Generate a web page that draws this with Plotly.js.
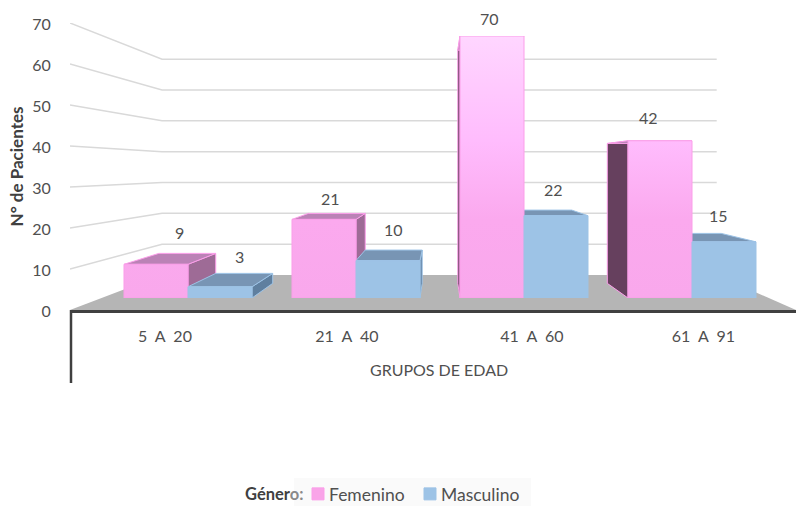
<!DOCTYPE html>
<html>
<head>
<meta charset="utf-8">
<script src="https://cdn.plot.ly/plotly-3.0.1.min.js"></script>
<style>html,body{margin:0;padding:0;background:#fff}</style>
</head>
<body>
<div id="chart" style="width:796px;height:506px"></div>
<script>
// Patients per age group and gender
const groups = ['5\u00A0\u00A0A\u00A0\u00A020', '21\u00A0\u00A0A\u00A0\u00A040', '41\u00A0\u00A0A\u00A0\u00A060', '61\u00A0\u00A0A\u00A0\u00A091'];
const femenino = [9, 21, 70, 42];
const masculino = [3, 10, 22, 15];
const valueTicks = [0, 10, 20, 30, 40, 50, 60, 70];

// Where the group labels sit along the front edge of the floor
const groupTickPos = [0.523, 1.526, 2.545, 3.49];
// Hand placement of the value labels relative to each bar top
const femShiftX = [23, 6, -3, -12], femShiftY = [32, 21, 17, 23];
const masShiftX = [19, 5, -3, -6], masShiftY = [30, 31, 26, 26];

// Page geometry, in pixels
const W = 796, H = 506, L = 70, T = 23, PW = 726, PH = 287;
const pxX = p => (p - L) / PW;
const pxY = p => (T + PH - p) / PH;

// Perspective of the room: walls recede toward a point behind the floor
const wallVx = 2.149, wallVy = 34.4, wallSx = 0.764, wallSy = 0.752;
const backX = x => wallVx + (x - wallVx) * wallSx;
const backY = v => wallVy + (v - wallVy) * wallSy;

// Perspective of the bars: depth pulls each corner toward one point
const bargap = 0.238, barW = (1 - bargap) / 2;
const barVx = 1.5, barVy = 35.53, depth = 0.89;
const deepX = x => barVx + (x - barVx) * depth;
const deepY = v => barVy + (v - barVy) * depth;

function quadInto(path, pts) {
  pts.forEach(p => { path.x.push(p[0]); path.y.push(p[1]); });
  path.x.push(pts[0][0], null); path.y.push(pts[0][1], null);
}
function faces(values, offset) {
  const top = {x: [], y: []}, right = {x: [], y: []}, left = {x: [], y: []};
  values.forEach((v, i) => {
    const a = i + offset, b = a + barW;
    quadInto(top, [[a, v], [b, v], [deepX(b), deepY(v)], [deepX(a), deepY(v)]]);
    if (b < barVx) quadInto(right, [[b, 0], [b, v], [deepX(b), deepY(v)], [deepX(b), deepY(0)]]);
    if (a > barVx) quadInto(left, [[a, 0], [a, v], [deepX(a), deepY(v)], [deepX(a), deepY(0)]]);
  });
  return {top, right, left};
}
function faceTrace(path, fill, edge) {
  return {x: path.x, y: path.y, xaxis: 'x2', yaxis: 'y2', type: 'scatter', mode: 'lines',
    fill: 'toself', fillcolor: fill, line: {color: edge, width: 1},
    hoverinfo: 'skip', showlegend: false};
}

const PINK = '#f9a4e8', BLUE = '#9dc3e6', PINK_EDGE = '#fb9ee9', BLUE_EDGE = '#9dc3e6';
const fem = faces(femenino, -barW), mas = faces(masculino, 0);

// Floor and gridlines of the side and back walls
const floorTrace = {
  x: [0, 4, backX(4), backX(0), 0], y: [0, 0, backY(0), backY(0), 0],
  type: 'scatter', mode: 'lines', fill: 'toself', fillcolor: '#b5b5b5',
  line: {width: 0, color: '#b5b5b5'}, hoverinfo: 'skip', showlegend: false
};
const gridX = [], gridY = [];
valueTicks.filter(v => v > 0).forEach(v => {
  gridX.push(0, backX(0), backX(4), null);
  gridY.push(v, backY(v), backY(v), null);
});
const gridTrace = {x: gridX, y: gridY, type: 'scatter', mode: 'lines',
  line: {color: '#d9d9d9', width: 1.5}, hoverinfo: 'skip', showlegend: false};

const barTrace = (name, values, color) => ({
  name, x: groups.map((_, i) => i), y: values, type: 'bar', xaxis: 'x3', yaxis: 'y3',
  marker: {color, line: {color: color === PINK ? PINK_EDGE : BLUE_EDGE, width: 1}},
  hoverinfo: 'y+name'
});

const traces = [
  floorTrace, gridTrace,
  faceTrace(fem.right, '#9e6b96', PINK_EDGE),
  faceTrace(fem.left, '#66405e', PINK_EDGE),
  faceTrace(fem.top, '#bb82b6', PINK_EDGE),
  faceTrace(mas.right, '#5f7f9f', BLUE_EDGE),
  faceTrace(mas.left, '#5f7f9f', BLUE_EDGE),
  faceTrace(mas.top, '#7895b4', BLUE_EDGE),
  barTrace('Femenino', femenino, PINK),
  barTrace('Masculino', masculino, BLUE)
];

const FONT = 'Lato, "Open Sans", sans-serif';
const INK = '#505050';
const valueLabel = (v, i, off, sx, sy) => ({
  text: String(v), x: i + off, y: v, xref: 'x3', yref: 'y3', showarrow: false,
  xanchor: 'center', yanchor: 'middle',
  xshift: sx[i], yshift: sy[i], font: {family: FONT, size: 16, color: INK}
});

const hiddenX = {visible: false, range: [-0.5, 3.5], domain: [pxX(104), pxX(776)], fixedrange: true};
const hiddenY = {visible: false, range: [0, 70], domain: [pxY(298), pxY(36)], fixedrange: true};

const layout = {
  width: W, height: H,
  margin: {l: L, r: W - L - PW, t: T, b: H - T - PH, pad: 0, autoexpand: false},
  paper_bgcolor: '#fff', plot_bgcolor: 'rgba(0,0,0,0)',
  font: {family: FONT, color: INK},
  barmode: 'group', bargap, bargroupgap: 0,
  xaxis: {
    range: [0, 4], tickmode: 'array', tickvals: groupTickPos, ticktext: groups,
    ticks: 'outside', ticklen: 10, tickcolor: 'rgba(0,0,0,0)',
    showgrid: false, zeroline: false, showline: true, linecolor: '#404040', linewidth: 2.5,
    tickfont: {family: FONT, size: 16, color: INK}, fixedrange: true
  },
  yaxis: {
    range: [0, 70], tickmode: 'array', tickvals: valueTicks,
    ticks: 'outside', ticklen: 15, tickcolor: 'rgba(0,0,0,0)', ticklabelshift: 1,
    showgrid: false, zeroline: false, showline: false,
    tickfont: {family: FONT, size: 16, color: INK}, fixedrange: true,
    title: {text: '<b>N° de Pacientes</b>', font: {family: FONT, size: 17, color: '#404040'}, standoff: 4}
  },
  xaxis2: Object.assign({anchor: 'y2'}, hiddenX),
  yaxis2: Object.assign({anchor: 'x2'}, hiddenY),
  xaxis3: Object.assign({anchor: 'y3'}, hiddenX),
  yaxis3: Object.assign({anchor: 'x3'}, hiddenY),
  shapes: [
    {type: 'line', xref: 'paper', yref: 'paper', x0: pxX(71), x1: pxX(71), y0: pxY(310), y1: pxY(383),
      line: {color: '#404040', width: 2.5}},
    {type: 'rect', xref: 'paper', yref: 'paper', x0: pxX(294), x1: pxX(531), y0: pxY(478), y1: pxY(506),
      fillcolor: '#fafafa', line: {width: 0}, layer: 'below'}
  ],
  annotations: [
    ...femenino.map((v, i) => valueLabel(v, i, -barW / 2, femShiftX, femShiftY)),
    ...masculino.map((v, i) => valueLabel(v, i, barW / 2, masShiftX, masShiftY)),
    {text: 'GRUPOS DE EDAD', xref: 'paper', yref: 'paper', x: pxX(439), y: pxY(369), showarrow: false,
      xanchor: 'center', yanchor: 'middle', font: {family: FONT, size: 16, color: INK}}
  ],
  legend: {
    orientation: 'h', x: pxX(243), y: pxY(494), xanchor: 'left', yanchor: 'middle',
    bgcolor: 'rgba(0,0,0,0)', borderwidth: 0,
    title: {text: '<b>Géner<span style="fill:#8a8a8a">o:</span></b>', side: 'left', font: {family: FONT, size: 16.5, color: '#404040'}},
    font: {family: FONT, size: 17.5, color: INK}, itemwidth: 30, itemclick: false, itemdoubleclick: false
  }
};

// Page x of each legend swatch and of the text beside it
const legendSwatchX = [312, 424], legendTextX = [329, 441];

Plotly.newPlot('chart', traces, layout, {displayModeBar: false, responsive: false}).then(gd => {
  // Light fades downward across the tall pink bars
  const svg = gd.querySelector('svg.main-svg');
  const ns = 'http://www.w3.org/2000/svg';
  const grad = document.createElementNS(ns, 'linearGradient');
  grad.setAttribute('id', 'pinkFade');
  grad.setAttribute('gradientUnits', 'userSpaceOnUse');
  grad.setAttribute('x1', 0); grad.setAttribute('x2', 0);
  grad.setAttribute('y1', 0); grad.setAttribute('y2', 262);
  [[0, '#ffd6ff'], [0.4, '#ffbcfd'], [0.7, '#fba9ee'], [1, '#f9a8ec']].forEach(s => {
    const stop = document.createElementNS(ns, 'stop');
    stop.setAttribute('offset', s[0]); stop.setAttribute('stop-color', s[1]);
    grad.appendChild(stop);
  });
  svg.querySelector('defs').appendChild(grad);
  const pinkBars = gd.querySelectorAll('.barlayer .trace')[0];
  pinkBars.querySelectorAll('path').forEach(p => { p.style.fill = 'url(#pinkFade)'; });

  // Tighten the legend: swatch right next to its text, heading on the same line
  gd.querySelectorAll('.legend .traces').forEach((item, i) => {
    const symbols = item.querySelector('.legendsymbols');
    const dx = legendSwatchX[i] - item.querySelector('.legendpoints path').getBoundingClientRect().left;
    symbols.setAttribute('transform', 'translate(' + dx + ',0)');
    const text = item.querySelector('.legendtext');
    const tx = legendTextX[i] - text.getBoundingClientRect().left;
    text.setAttribute('x', parseFloat(text.getAttribute('x')) + tx);
  });
  const heading = gd.querySelector('.legend .legendtitletext');
  if (heading) heading.setAttribute('transform', 'translate(0,3)');
  const clip = gd.querySelector('.legend .scrollbox');
  if (clip) clip.removeAttribute('clip-path');
});
</script>
</body>
</html>
